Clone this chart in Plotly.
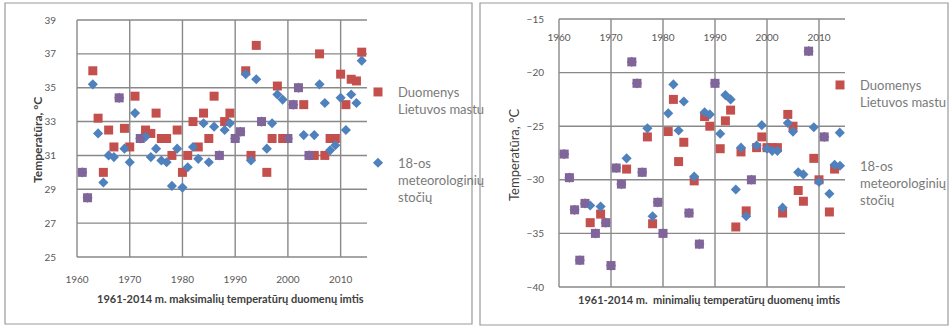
import plotly.graph_objects as go

# Annual temperature extremes, 1961-2014
years = list(range(1961, 2015))

# Maximum temperatures (°C)
max_lt = [30.0, 28.5, 36.0, 33.2, 30.0, 32.5, 31.5, 34.4, 32.6, 31.5,
          34.5, 32.0, 32.5, 32.3, 33.5, 32.0, 32.0, 31.0, 32.5, 30.0,
          31.0, 33.0, 31.5, 33.5, 32.0, 34.5, 31.0, 33.0, 33.5, 32.0,
          32.4, 36.0, 31.0, 37.5, 33.0, 30.0, 32.0, 35.1, 32.0, 32.0,
          34.0, 35.0, 34.0, 31.0, 31.0, 37.0, 31.0, 32.0, 32.0, 35.8,
          34.0, 35.5, 35.4, 37.1]
max_st = [30.0, 28.5, 35.2, 32.3, 29.4, 31.0, 30.9, 34.4, 31.4, 30.6,
          33.5, 32.0, 32.1, 30.9, 31.4, 30.7, 30.6, 29.2, 31.4, 29.1,
          30.3, 31.5, 30.8, 32.9, 30.6, 32.7, 31.0, 32.5, 32.9, 32.0,
          32.4, 35.8, 30.7, 35.5, 33.0, 31.4, 32.9, 34.6, 34.3, 32.0,
          34.0, 35.0, 32.2, 31.0, 32.2, 35.2, 34.1, 31.3, 31.6, 34.4,
          32.5, 34.6, 34.1, 36.6]

# Minimum temperatures (°C)
min_lt = [-27.6, -29.8, -32.8, -37.5, -32.2, -34.0, -35.0, -33.2, -34.0, -38.0,
          -28.9, -30.4, -29.0, -19.0, -21.0, -29.3, -26.0, -34.1, -32.1, -35.0,
          -25.5, -22.5, -28.3, -26.5, -33.1, -30.1, -36.0, -24.1, -25.0, -21.0,
          -27.1, -24.5, -23.5, -34.4, -27.4, -32.9, -30.0, -27.0, -26.0, -27.0,
          -27.0, -27.0, -33.1, -23.9, -25.0, -31.0, -32.0, -18.0, -28.0, -30.0,
          -26.0, -33.0, -29.0, None]
min_st = [-27.6, -29.8, -32.8, -37.5, -32.2, -32.4, -35.0, -32.5, -34.0, -38.0,
          -28.9, -30.4, -28.0, -19.0, -21.0, -29.3, -25.2, -33.4, -32.1, -35.0,
          -23.8, -21.1, -25.4, -22.7, -33.1, -29.7, -36.0, -23.7, -23.9, -21.0,
          -25.7, -22.1, -22.5, -30.9, -27.0, -33.4, -30.0, -26.8, -24.9, -27.1,
          -27.3, -27.3, -32.6, -24.7, -25.5, -29.3, -29.5, -18.0, -25.1, -30.2,
          -26.0, -31.3, -28.6, -25.6]

# Axis ranges and tick steps
x_range = [1960, 2015]
x_step = 10
max_range, max_step = [25, 39], 2
min_range, min_step = [-40, -15], 5

name_lt = "Duomenys<br>Lietuvos mastu"
name_st = "18-os<br>meteorologinių<br>stočių"

RED = "#C4504D"
BLUE = "#4F81BD"
BOTH = "#80659A"   # where the two series coincide
GRID = "#898989"
TXT = "#595959"
FONT = "Lato"


def colours(a, b, base):
    return [BOTH if (u is not None and v is not None and u == v) else base
            for u, v in zip(a, b)]


def steps(lo, hi, step):
    out, v = [], lo
    while v <= hi + 1e-9:
        out.append(v)
        v += step
    return out


fig = go.Figure()

# Points are passed newest-first so the legend swatch takes the series colour
for (lt, st, xa, ya, lg) in [(max_lt, max_st, "x", "y", "legend"),
                             (min_lt, min_st, "x2", "y2", "legend2")]:
    fig.add_trace(go.Scatter(
        x=years[::-1], y=lt[::-1], mode="markers", name=name_lt,
        xaxis=xa, yaxis=ya, legend=lg, legendgroup="lt" + xa,
        marker=dict(symbol="square", size=9, color=colours(lt, st, RED)[::-1],
                    line=dict(width=0))))
    fig.add_trace(go.Scatter(
        x=years[::-1], y=st[::-1], mode="markers", name=name_st,
        xaxis=xa, yaxis=ya, legend=lg, legendgroup="st" + xa,
        marker=dict(symbol="diamond", size=7.8,
                    color=colours(st, lt, BLUE)[::-1], line=dict(width=0))))

W, H = 952, 327


def px(x):
    return x / W


def py(y):
    return 1 - y / H


# Gridlines of both panels, placed along each axis domain
for xa, ya, yrange, ystep in [("x", "y", max_range, max_step),
                              ("x2", "y2", min_range, min_step)]:
    for xv in steps(x_range[0], x_range[1] - 1, x_step):
        f = (xv - x_range[0]) / (x_range[1] - x_range[0])
        fig.add_shape(type="line", xref=xa + " domain", yref=ya + " domain",
                      layer="below", x0=f, x1=f, y0=0, y1=1,
                      line=dict(color=GRID, width=1.4))
    for yv in steps(yrange[0], yrange[1], ystep):
        f = (yv - yrange[0]) / (yrange[1] - yrange[0])
        fig.add_shape(type="line", xref=xa + " domain", yref=ya + " domain",
                      layer="below", x0=0, x1=1, y0=f, y1=f,
                      line=dict(color=GRID, width=1.4))

axis_common = dict(zeroline=False, showline=False, showgrid=False,
                   tickcolor="rgba(0,0,0,0)", ticks="outside",
                   tickfont=dict(family=FONT, size=10, color=TXT))

fig.update_layout(
    width=W, height=H,
    margin=dict(l=0, r=0, t=0, b=0),
    template="none",
    paper_bgcolor="white", plot_bgcolor="white",
    font=dict(family=FONT, color=TXT),
    xaxis=dict(domain=[px(77), px(367)], range=x_range, dtick=x_step,
               tick0=x_range[0], anchor="y", ticklen=13, **axis_common),
    yaxis=dict(domain=[py(257), py(20)], range=max_range, dtick=max_step,
               tick0=max_range[0], anchor="x", ticklen=18, **axis_common),
    # minimum-temperature panel: year labels sit just under the top edge
    xaxis2=dict(domain=[px(559), px(845)], range=x_range, dtick=x_step,
                tick0=x_range[0], anchor="free", position=py(15),
                side="bottom", ticklen=13, **axis_common),
    yaxis2=dict(domain=[py(287), py(19)], range=min_range, dtick=min_step,
                tick0=min_range[0], anchor="x2", ticklen=12, **axis_common),
    legend=dict(x=px(358), y=py(77), xanchor="left", yanchor="top",
                valign="top", tracegroupgap=34, bgcolor="rgba(0,0,0,0)",
                borderwidth=0,
                font=dict(family=FONT, size=13, color="#7a7a7a")),
    legend2=dict(x=1.0, y=py(70), xanchor="right", yanchor="top",
                 valign="top", tracegroupgap=44, bgcolor="rgba(0,0,0,0)",
                 borderwidth=0,
                 font=dict(family=FONT, size=13, color="#7a7a7a")),
    showlegend=True,
)

# Chart-area frames
for x0, x1, y1 in [(5, 472, 324), (480, 948, 325)]:
    fig.add_shape(type="rect", xref="paper", yref="paper",
                  x0=px(x0), x1=px(x1), y0=py(y1), y1=py(3),
                  fillcolor="rgba(0,0,0,0)",
                  line=dict(color="#9a9a9a", width=1.2))

# Axis titles
title_font = dict(family=FONT, size=11, color="#404040")
fig.add_annotation(x=px(38), y=py(140), xref="paper", yref="paper",
                   xanchor="center", yanchor="middle",
                   text="<b>Temperatūra, °C</b>", textangle=-90,
                   showarrow=False, font=dict(family=FONT, size=12, color="#404040"))
fig.add_annotation(x=px(230), y=py(298), xref="paper", yref="paper",
                   xanchor="center", yanchor="middle",
                   text="<b>1961-2014 m. maksimalių temperatūrų duomenų imtis</b>",
                   showarrow=False, font=title_font)
fig.add_annotation(x=px(514), y=py(155), xref="paper", yref="paper",
                   xanchor="center", yanchor="middle",
                   text="Temperatūra, °C", textangle=-90,
                   showarrow=False, font=dict(family=FONT, size=13, color="#404040"))
fig.add_annotation(x=px(709), y=py(299), xref="paper", yref="paper",
                   xanchor="center", yanchor="middle",
                   text="<b>1961-2014 m.  minimalių temperatūrų duomenų imtis</b>",
                   showarrow=False, font=title_font)

fig.write_html("out.html")
